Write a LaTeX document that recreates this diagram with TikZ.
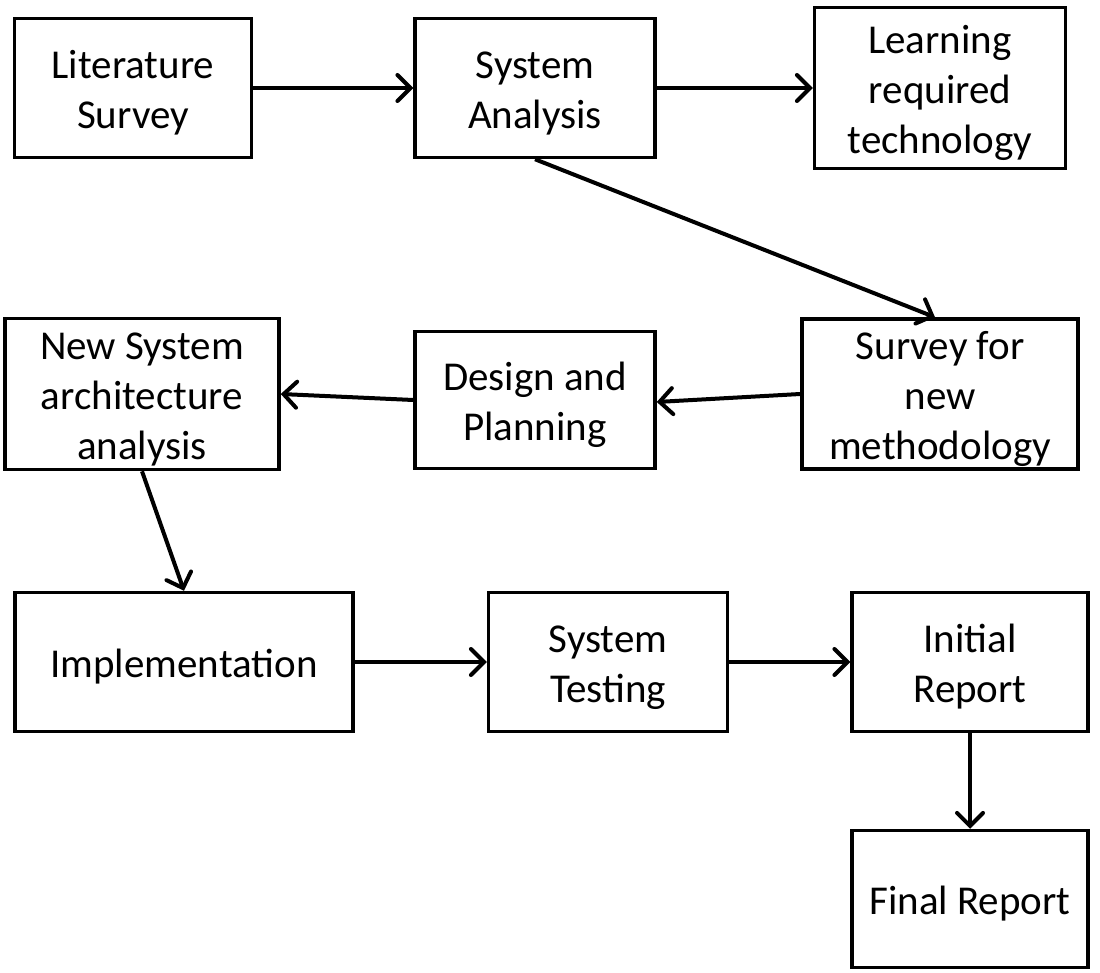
\documentclass[tikz,border=0pt]{standalone}
\usepackage{fontspec}
\setmainfont{Carlito}
\usetikzlibrary{arrows.meta}

\newcommand{\toprow}{\rule{0pt}{38pt}}

\begin{document}
\begin{tikzpicture}[x=1pt,y=-1pt]
    \tikzset{stage/.style={
        draw, line width=3.5pt, align=center, inner sep=0pt,
        font=\fontsize{41}{50}\selectfont, minimum height=139pt
      },
      flow/.style={line width=4pt,
        -{Straight Barb[length=13pt,width=26pt,line width=4pt,line cap=round]}
      }
    }
    \useasboundingbox (0,0) rectangle (1100,973);

    % first row
    \node[stage, minimum width=237pt] (lit) at (133,88) {\toprow Literature\\Survey};
    \node[stage, minimum width=240pt] (ana) at (535,88) {\toprow System\\Analysis};
    \node[stage, minimum width=251pt, minimum height=161pt] (learn) at (940,88) {\toprow Learning\\required\\technology};

    % second row
    \node[stage, minimum width=274pt, minimum height=151pt] (arch) at (142,394) {\toprow New System\\architecture\\analysis};
    \node[stage, minimum width=240pt, minimum height=137pt] (plan) at (535,400) {\toprow Design and\\Planning};
    \node[stage, minimum width=276pt, minimum height=150pt] (meth) at (940,394) {\toprow Survey for\\new\\methodology};

    % third row
    \node[stage, minimum width=338pt] (impl) at (184,662) {\toprow Implementation};
    \node[stage, minimum width=239pt] (test) at (608,662) {\toprow System\\Testing};
    \node[stage, minimum width=236pt] (init) at (970,662) {\toprow Initial\\Report};
    \node[stage, minimum width=236pt, minimum height=137pt] (final) at (970,899) {\toprow Final Report};

    \draw[flow] (lit) -- (ana);
    \draw[flow] (ana) -- (learn);
    \draw[flow] (ana.south) -- (meth.north -| 935,0);
    \draw[flow] (meth.west) -- (plan.east |- 0,402);
    \draw[flow] (plan.west) -- (arch.east);
    \draw[flow] (arch.south) -- (impl.north);
    \draw[flow] (impl) -- (test);
    \draw[flow] (test) -- (init);
    \draw[flow] (init) -- (final);
\end{tikzpicture}
\end{document}
